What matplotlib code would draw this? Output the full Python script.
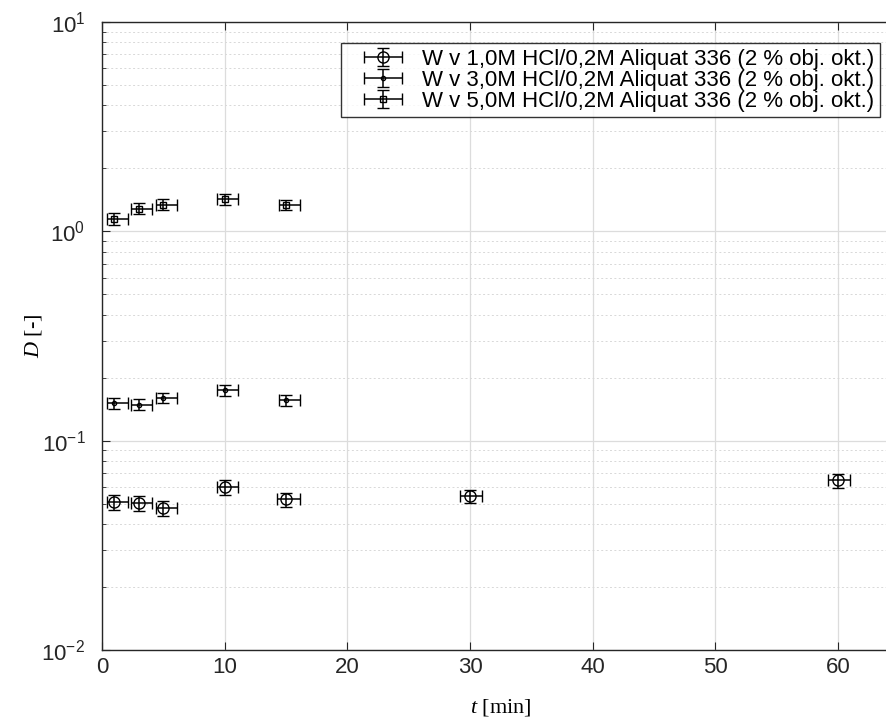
import matplotlib
matplotlib.use('Agg')
import matplotlib.pyplot as plt
from matplotlib.ticker import LogLocator, NullFormatter, MultipleLocator
from matplotlib.legend_handler import HandlerErrorbar
from matplotlib.container import ErrorbarContainer

plt.rcParams['font.family'] = ['Liberation Sans', 'DejaVu Sans']
plt.rcParams['mathtext.fontset'] = 'custom'
plt.rcParams['mathtext.rm'] = 'Liberation Sans'
plt.rcParams['mathtext.it'] = 'Liberation Serif:italic'

# data
cas_1M = [1, 3, 5, 10, 15, 30, 60]
D_1M = [0.0509, 0.0502, 0.0475, 0.0598, 0.0524, 0.0542, 0.0646]
dD_1M = [0.004, 0.004, 0.004, 0.005, 0.004, 0.004, 0.005]
xlo_1M = [0.6, 0.6, 0.6, 0.6, 0.7, 0.8, 0.8]
xhi_1M = [1.1, 1.1, 1.1, 1.1, 1.1, 1.0, 1.0]

cas_3M = [1, 3, 5, 10, 15]
D_3M = [0.151, 0.1485, 0.1598, 0.174, 0.1558]
dD_3M = [0.009, 0.009, 0.009, 0.01, 0.009]
xlo_3M = [0.6, 0.6, 0.6, 0.6, 0.6]
xhi_3M = [1.1, 1.1, 1.1, 1.1, 1.1]

cas_5M = [1, 3, 5, 10, 15]
D_5M = [1.15, 1.284, 1.341, 1.422, 1.341]
dD_5M = [0.075, 0.075, 0.08, 0.08, 0.075]
xlo_5M = [0.6, 0.6, 0.6, 0.6, 0.6]
xhi_5M = [1.1, 1.1, 1.1, 1.1, 1.1]

popisky = ['W v 1,0M HCl/0,2M Aliquat 336 (2 % obj. okt.)',
           'W v 3,0M HCl/0,2M Aliquat 336 (2 % obj. okt.)',
           'W v 5,0M HCl/0,2M Aliquat 336 (2 % obj. okt.)']

fig = plt.figure(figsize=(8.87, 7.24), dpi=100)
# osa je schvalne sirsi nez obrazek, prava hrana je oriznuta
ax = fig.add_axes([102 / 887, 74 / 724, 797.5 / 887, 628 / 724])

styl = dict(color='black', ecolor='black', elinewidth=1.1, capsize=4,
            capthick=1.1, linestyle='none', markerfacecolor='none',
            markeredgewidth=1.0)
ax.errorbar(cas_1M, D_1M, yerr=dD_1M, xerr=[xlo_1M, xhi_1M], marker='o',
            markersize=8, label=popisky[0], **styl)
ax.errorbar(cas_3M, D_3M, yerr=dD_3M, xerr=[xlo_3M, xhi_3M], marker='.',
            markersize=6, label=popisky[1], **styl)
ax.errorbar(cas_5M, D_5M, yerr=dD_5M, xerr=[xlo_5M, xhi_5M], marker='s',
            markersize=5, label=popisky[2], **styl)

ax.set_yscale('log')
ax.set_ylim(1e-2, 1e1)
ax.set_xlim(0, 65)
ax.xaxis.set_major_locator(MultipleLocator(10))
ax.yaxis.set_major_locator(LogLocator(base=10))
ax.yaxis.set_minor_locator(LogLocator(base=10, subs=range(2, 10)))
ax.yaxis.set_minor_formatter(NullFormatter())

ax.grid(True, which='major', color='#dcdcdc', linewidth=0.9)
ax.grid(True, which='minor', axis='y', color='#d8d8d8', linestyle=(0, (2, 2.5)), linewidth=0.7)
ax.set_axisbelow(True)

ax.tick_params(which='both', direction='in', top=True, right=True,
               colors='#262626', labelsize=16)
ax.tick_params(which='major', length=6)
ax.tick_params(which='minor', length=3)
ax.tick_params(axis='x', which='major', pad=5)
ax.tick_params(axis='y', which='major', pad=12)
for s in ax.spines.values():
    s.set_color('#262626')
    s.set_linewidth(1.0)

ax.set_xlabel(r'$t$ [min]', fontsize=16, family='Liberation Serif', labelpad=14)
ax.set_ylabel(r'$D$ [-]', fontsize=16, family='Liberation Serif', labelpad=-2)

leg = ax.legend(loc='upper right', bbox_to_anchor=(0.9755, 0.9666), fontsize=16,
                frameon=True, fancybox=False, edgecolor='black', borderaxespad=0,
                handlelength=3.3, handletextpad=0.1, borderpad=0.25,
                labelspacing=0.0,
                handler_map={ErrorbarContainer: HandlerErrorbar(xerr_size=0.85, yerr_size=0.4)})
leg.get_frame().set_linewidth(1.0)

fig.savefig('out.png', dpi=100)
